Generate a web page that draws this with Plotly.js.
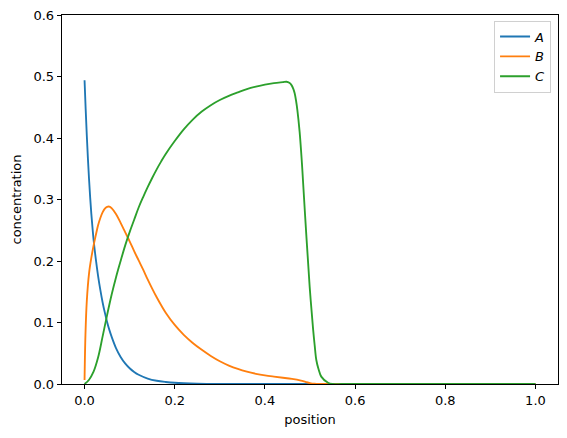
<!DOCTYPE html>
<html>
<head>
<meta charset="utf-8">
<script src="https://cdn.plot.ly/plotly-3.0.1.min.js"></script>
<style>html,body{margin:0;padding:0;background:#fff;}#chart{width:567px;height:438px;}</style>
</head>
<body>
<div id="chart"></div>
<script>
// Series A (position, concentration)
const posA = [0, 0.0025, 0.005, 0.0075, 0.01, 0.0125, 0.015, 0.0175, 0.02, 0.025, 0.03, 0.035, 0.04, 0.045, 0.05, 0.055, 0.06, 0.07, 0.08, 0.09, 0.1, 0.11, 0.12, 0.14, 0.16, 0.18, 0.2, 0.25, 0.3, 0.35, 0.5, 0.75, 1.0];
const concA = [0.494, 0.447, 0.404, 0.366, 0.333, 0.303, 0.277, 0.255, 0.235, 0.203, 0.176, 0.153, 0.133, 0.116, 0.101, 0.088, 0.077, 0.058, 0.044, 0.0335, 0.0256, 0.0196, 0.015, 0.0089, 0.0053, 0.0033, 0.002, 0.0006, 0.0001, 0, 0, 0, 0];
// Series B
const posB = [0, 0.002, 0.005, 0.01, 0.015, 0.02, 0.025, 0.03, 0.035, 0.04, 0.045, 0.05, 0.055, 0.06, 0.07, 0.08, 0.09, 0.1, 0.11, 0.12, 0.13, 0.14, 0.15, 0.16, 0.17, 0.18, 0.2, 0.22, 0.24, 0.26, 0.28, 0.3, 0.32, 0.34, 0.36, 0.38, 0.4, 0.42, 0.44, 0.46, 0.48, 0.49, 0.5, 0.51, 0.52, 0.55, 0.75, 1.0];
const concB = [0.0065, 0.08, 0.135, 0.18, 0.205, 0.225, 0.242, 0.258, 0.270, 0.279, 0.285, 0.288, 0.2885, 0.286, 0.276, 0.262, 0.247, 0.232, 0.216, 0.201, 0.186, 0.170, 0.155, 0.141, 0.128, 0.116, 0.096, 0.080, 0.0668, 0.0556, 0.0456, 0.037, 0.030, 0.0244, 0.020, 0.0166, 0.014, 0.012, 0.0102, 0.0082, 0.0054, 0.0034, 0.0015, 0.0004, 0, 0, 0, 0];
// Series C
const posC = [0, 0.01, 0.02, 0.03, 0.04, 0.05, 0.06, 0.07, 0.08, 0.09, 0.1, 0.11, 0.12, 0.13, 0.14, 0.15, 0.16, 0.17, 0.18, 0.2, 0.22, 0.24, 0.26, 0.28, 0.3, 0.32, 0.34, 0.36, 0.38, 0.4, 0.42, 0.44, 0.448, 0.454, 0.459, 0.463, 0.466, 0.469, 0.472, 0.477, 0.482, 0.4845, 0.492, 0.4993, 0.507, 0.5105, 0.514, 0.519, 0.525, 0.54, 0.55, 0.57, 0.6, 0.75, 1.0];
const concC = [0, 0.007, 0.02, 0.043, 0.077, 0.112, 0.145, 0.174, 0.200, 0.225, 0.247, 0.267, 0.287, 0.304, 0.320, 0.335, 0.349, 0.362, 0.374, 0.395, 0.414, 0.430, 0.443, 0.4534, 0.4618, 0.4686, 0.4742, 0.4795, 0.4835, 0.4868, 0.4892, 0.4908, 0.4914, 0.4897, 0.486, 0.480, 0.4727, 0.461, 0.4455, 0.41, 0.36, 0.33, 0.24, 0.158, 0.088, 0.062, 0.039, 0.024, 0.012, 0.002, 0, 0, 0, 0, 0];

const seriesNames = ['<i>A</i>', '<i>B</i>', '<i>C</i>'];
const colors = ['#1f77b4', '#ff7f0e', '#2ca02c'];
const xTicks = [0, 0.2, 0.4, 0.6, 0.8, 1.0];
const yTicks = [0, 0.1, 0.2, 0.3, 0.4, 0.5, 0.6];

const xs = [posA, posB, posC];
const ys = [concA, concB, concC];
const traces = xs.map((x, i) => ({
  x: x, y: ys[i], type: 'scatter', mode: 'lines', name: seriesNames[i],
  line: {color: colors[i], width: 1.85, shape: 'spline', smoothing: 1.0}
}));

const font = {family: 'DejaVu Sans', size: 13, color: '#000'};
const layout = {
  width: 567, height: 438,
  margin: {l: 62, r: 9, t: 15, b: 54, pad: 0},
  paper_bgcolor: '#fff', plot_bgcolor: '#fff',
  font: font,
  showlegend: true,
  xaxis: {
    range: [-0.05, 1.05], tickvals: xTicks, ticktext: xTicks.map(v => v.toFixed(1)),
    showline: true, linecolor: '#000', linewidth: 1, mirror: true,
    ticks: 'outside', ticklen: 4.3, tickwidth: 1, tickcolor: '#000',
    showgrid: false, zeroline: false, tickfont: font,
    title: {text: 'position', font: font, standoff: 7}
  },
  yaxis: {
    range: [0, 0.6], tickvals: yTicks, ticktext: yTicks.map(v => v.toFixed(1)),
    showline: true, linecolor: '#000', linewidth: 1, mirror: true,
    ticks: 'outside', ticklen: 4.3, tickwidth: 1, tickcolor: '#000',
    showgrid: false, zeroline: false, tickfont: font,
    title: {text: 'concentration', font: font, standoff: 8}
  },
  legend: {
    x: 0.986, xanchor: 'right', y: 0.985, yanchor: 'top',
    bgcolor: 'rgba(255,255,255,0.8)', bordercolor: '#d0d0d0', borderwidth: 1,
    font: font, tracegroupgap: 0
  }
};
Plotly.newPlot('chart', traces, layout, {displayModeBar: false, staticPlot: true});
</script>
</body>
</html>
